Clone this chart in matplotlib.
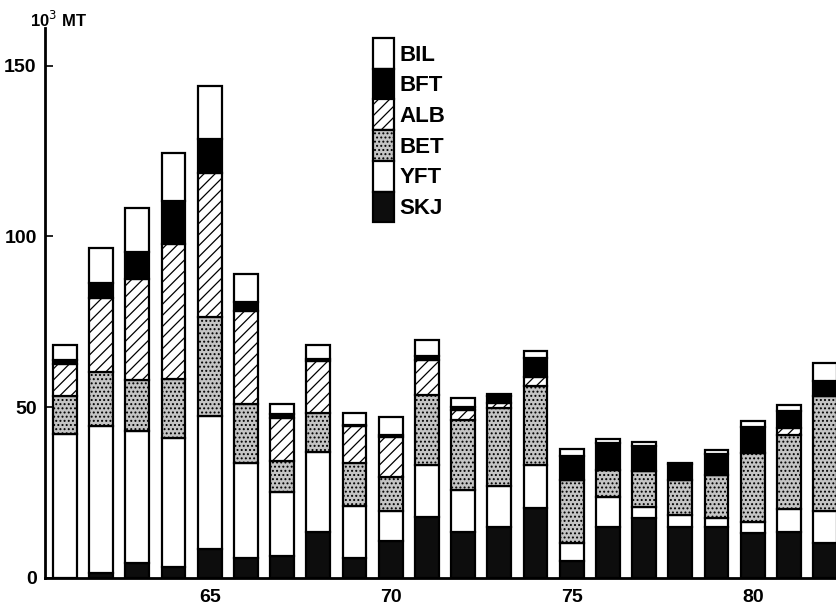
import matplotlib
matplotlib.use("Agg")
import matplotlib.pyplot as plt
import numpy as np

plt.rcParams['font.family'] = ['Liberation Sans', 'DejaVu Sans']
plt.rcParams['hatch.linewidth'] = 0.9

years = list(range(1961, 1983))
SKJ = [0.0, 1.5, 4.3, 3.1, 8.4, 5.8, 6.3, 13.6, 5.8, 10.9, 18.0, 13.6, 14.9, 20.4, 5.1, 15.0, 17.5, 15.0, 15.0, 13.3, 13.6, 10.2]
YFT = [42.2, 43.1, 38.6, 37.9, 38.9, 27.8, 18.9, 23.4, 15.3, 8.6, 15.1, 12.2, 11.9, 12.7, 5.1, 8.8, 3.4, 3.5, 2.5, 3.2, 6.5, 9.3]
BET = [11.2, 15.6, 15.0, 17.3, 29.2, 17.4, 9.1, 11.3, 12.5, 10.2, 20.6, 20.5, 23.0, 23.2, 18.5, 7.9, 10.3, 10.2, 12.7, 20.1, 21.8, 33.7]
ALB = [9.1, 21.8, 29.5, 39.6, 42.2, 27.1, 12.5, 15.3, 10.8, 11.7, 10.2, 2.8, 1.5, 2.6, 0.0, 0.0, 0.0, 0.0, 0.0, 0.0, 2.0, 0.0]
BFT = [1.2, 4.5, 8.1, 12.5, 9.7, 2.6, 1.3, 0.5, 0.3, 0.5, 1.2, 1.1, 2.0, 5.5, 6.9, 7.8, 7.3, 4.6, 6.2, 7.6, 4.9, 4.4]
BIL = [4.6, 10.0, 12.7, 14.1, 15.5, 8.2, 2.9, 4.1, 3.6, 5.1, 4.7, 2.6, 0.7, 2.0, 2.1, 1.2, 1.2, 0.5, 1.0, 1.9, 1.9, 5.2]

species = ['SKJ', 'YFT', 'BET', 'ALB', 'BFT', 'BIL']
series = [SKJ, YFT, BET, ALB, BFT, BIL]
styles = {
    'SKJ': dict(facecolor='#0d0d0d', hatch=None),
    'YFT': dict(facecolor='white', hatch=None),
    'BET': dict(facecolor='#c4c4c4', hatch='....'),
    'ALB': dict(facecolor='white', hatch='///'),
    'BFT': dict(facecolor='black', hatch=None),
    'BIL': dict(facecolor='white', hatch=None),
}
xticks = [1965, 1970, 1975, 1980]
xticklabels = ['65', '70', '75', '80']
yticks = [0, 50, 100, 150]

fig = plt.figure(figsize=(8.36, 6.08), dpi=100)
ax = fig.add_axes([45/836, 30/608, 1 - 45/836, 550/608])

bottom = np.zeros(len(years))
handles = {}
for name, vals in zip(species, series):
    st = styles[name]
    bars = ax.bar(years, vals, width=0.66, bottom=bottom, facecolor=st['facecolor'],
                  edgecolor='black', linewidth=1.6, hatch=st['hatch'], label=name)
    handles[name] = bars
    bottom += np.array(vals)

ax.set_xlim(1960.45, 1982.3)
ax.set_ylim(0, 161)
for s in ['top', 'right']:
    ax.spines[s].set_visible(False)
ax.spines['left'].set_linewidth(2)
ax.spines['bottom'].set_linewidth(2)

ax.set_yticks(yticks)
ax.set_yticklabels([str(v) for v in yticks], fontsize=14, fontweight='bold')
ax.tick_params(axis='y', direction='in', length=6, width=1.2, pad=6)
ax.set_xticks(xticks)
ax.set_xticklabels(xticklabels, fontsize=14, fontweight='bold')
ax.tick_params(axis='x', length=0, pad=8)

fig.text(30/836, 1 - 20/608, r'10$^3$ MT', fontsize=12, fontweight='bold', va='center', ha='left')

order = ['BIL', 'BFT', 'ALB', 'BET', 'YFT', 'SKJ']
leg = ax.legend([handles[n] for n in order], order, loc='upper left',
                bbox_to_anchor=(373/836, 1 - 38/608), bbox_transform=fig.transFigure,
                frameon=False, fontsize=16, handlelength=0.95, handleheight=1.75,
                labelspacing=0.0, handletextpad=0.25, borderaxespad=0, borderpad=0)
for t in leg.get_texts():
    t.set_fontweight('bold')

fig.savefig('out.png', dpi=100)
